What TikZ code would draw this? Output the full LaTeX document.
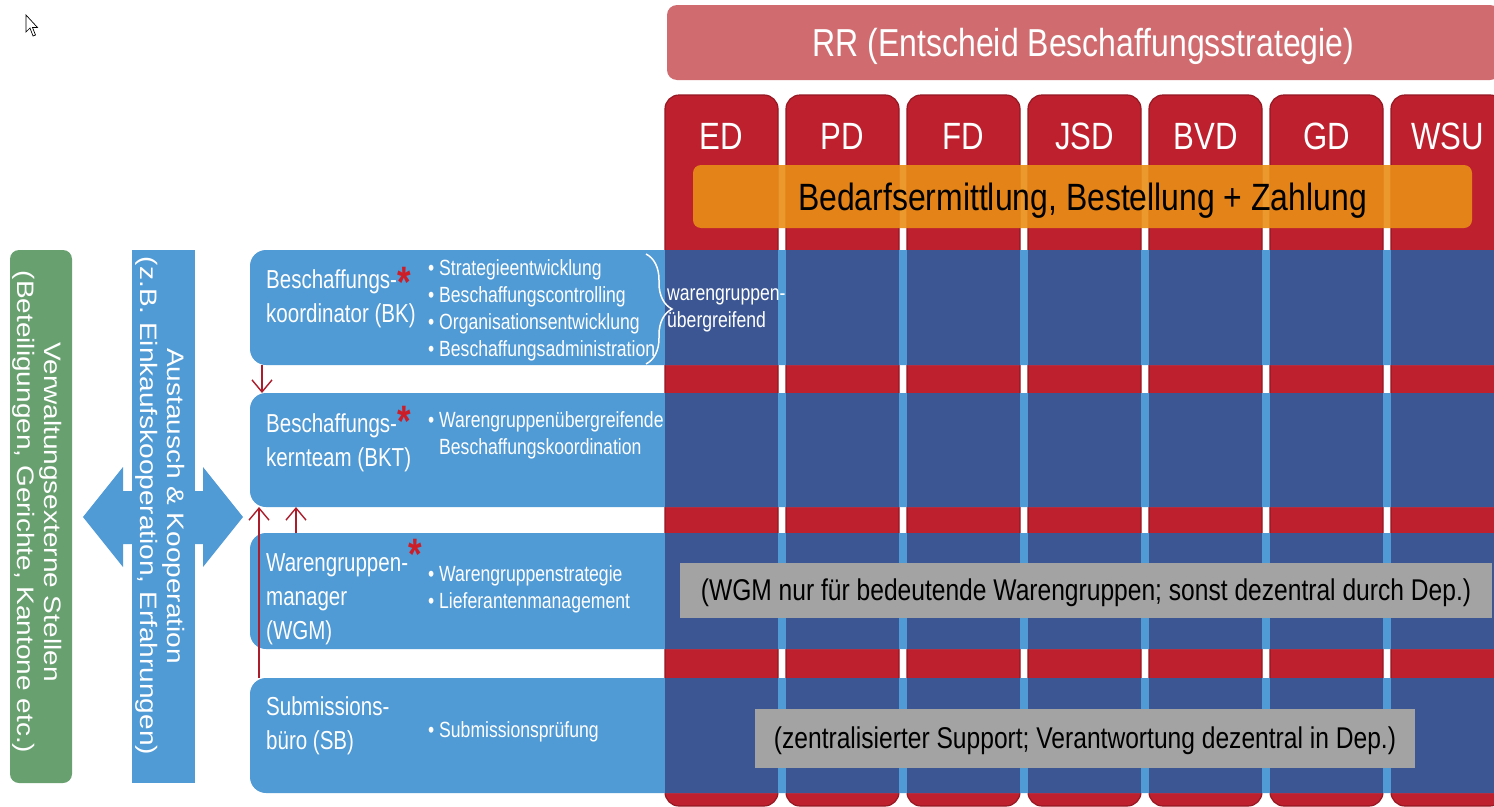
\documentclass[tikz,border=0pt]{standalone}
\usepackage{fontspec}
\setmainfont{Liberation Sans}
\usetikzlibrary{arrows.meta,decorations.pathreplacing}

\definecolor{rowblue}{RGB}{80,154,213}
\definecolor{deptblue}{RGB}{59,86,146}
\definecolor{deptred}{RGB}{190,32,46}
\definecolor{deptedge}{RGB}{150,24,34}
\definecolor{rrred}{RGB}{208,108,112}
\definecolor{bedarforange}{RGB}{233,142,22}
\definecolor{extgreen}{RGB}{104,160,112}
\definecolor{notegrey}{RGB}{163,163,163}
\definecolor{linkred}{RGB}{172,28,42}
\definecolor{starred}{RGB}{205,30,40}

\newcommand{\redstar}[1]{\smash{{\color{starred}\fontsize{44}{44}\selectfont\bfseries\raisebox{#1}{*}}}}

\begin{document}
\begin{tikzpicture}[x=1pt, y=-1pt]
    \tikzstyle{header} = [rectangle, fill=rrred, rounded corners=10pt, inner sep=0pt, outer sep=0pt]
    \tikzstyle{headtext} = [text=white, font=\fontsize{39}{39}\selectfont, xscale=0.82, inner sep=0pt]
    \tikzstyle{dept} = [rectangle, draw=deptedge, line width=1.2pt, fill=deptred, rounded corners=14pt, minimum width=113pt, minimum height=711pt, anchor=north west, inner sep=0pt, outer sep=0pt]
    \tikzstyle{deptlabel} = [text=white, font=\fontsize{38}{38}\selectfont, xscale=0.82, inner sep=0pt]
    \tikzstyle{bar} = [rectangle, fill=bedarforange, fill opacity=0.9, rounded corners=8pt, inner sep=0pt, outer sep=0pt]
    \tikzstyle{bartext} = [text=black, font=\fontsize{38}{38}\selectfont, xscale=0.84, inner sep=0pt]
    \tikzstyle{unit} = [rectangle, fill=rowblue, rounded corners=16pt, minimum width=1280pt, anchor=north west, inner sep=0pt, outer sep=0pt]
    \tikzstyle{role} = [text=white, font=\fontsize{26}{34}\selectfont, align=left, anchor=west, xscale=0.79, inner sep=0pt]
    \tikzstyle{task} = [text=white, font=\fontsize{22}{27}\selectfont, align=left, anchor=west, xscale=0.8, inner sep=0pt]
    \tikzstyle{grouping} = [draw=white, line width=1.5pt, decorate, decoration={brace, amplitude=26pt}]
    \tikzstyle{note} = [rectangle, fill=notegrey, inner sep=0pt, outer sep=0pt]
    \tikzstyle{notetext} = [text=black, font=\fontsize{30}{30}\selectfont, xscale=0.82, inner sep=0pt]
    \tikzstyle{link} = [draw=linkred, line width=1.4pt, -{Straight Barb[length=12pt, width=20pt]}]
    \tikzstyle{coopbar} = [rectangle, fill=rowblue, inner sep=0pt, outer sep=0pt]
    \tikzstyle{extbox} = [rectangle, fill=extgreen, rounded corners=9pt, inner sep=0pt, outer sep=0pt]
    \tikzstyle{sidetext} = [text=white, font=\fontsize{28}{31}\selectfont, align=center, rotate=-90, yscale=0.85, inner sep=0pt]

    \useasboundingbox (0,0) rectangle (1494,806);
    \clip (0,0) rectangle (1494,806);
    \fill[white] (0,0) rectangle (1494,806);

    \draw[black, fill=white, line width=0.7pt] (26,15) -- (26,32) -- (30,28) -- (33,36) -- (35.5,35) -- (32.5,27.5) -- (37.5,27.5) -- cycle;

    \node (rr) [header, minimum width=833pt, minimum height=75pt, anchor=north west] at (667,5) {};
    \node [headtext] at ([yshift=-4pt]rr.center) {RR (Entscheid Beschaffungsstrategie)};

    \foreach \dep [count=\i] in {ED,PD,FD,JSD,BVD,GD,WSU} {
        \node (col\i) [dept] at ({665+121*(\i-1)},95) {};
        \node [deptlabel] at ([yshift=-41pt]col\i.north) {\dep};
    }

    \node (bedarf) [bar, minimum width=779pt, minimum height=63pt] at (1082.5,196.5) {};
    \node [bartext] at ([yshift=-4pt]bedarf.center) {Bedarfsermittlung, Bestellung + Zahlung};

    \node (bk) [unit, minimum height=115pt] at (250,250) {};
    \node (bkt) [unit, minimum height=114pt] at (250,393) {};
    \node (wgm) [unit, minimum height=116pt] at (250,533) {};
    \node (sb) [unit, minimum height=115pt] at (250,678) {};

    \foreach \r in {bk,bkt,wgm,sb}
        \foreach \i in {1,...,7}
            \fill[deptblue] (col\i.west |- \r.north) rectangle (col\i.east |- \r.south);

    \node [role] at (266,299) {Beschaffungs-\redstar{-9pt}\\koordinator (BK)};
    \node [task] at (428,310) {• Strategieentwicklung\\• Beschaffungscontrolling\\• Organisationsentwicklung\\• Beschaffungsadministration};
    \draw [grouping] (646,254) -- (646,364);
    \node [task] at (667,310) {warengruppen-\\übergreifend};

    \node [role] at (266,443) {Beschaffungs-\redstar{-4pt}\\kernteam (BKT)};
    \node [task] at (428,435) {• Warengruppenübergreifende\\\phantom{• }Beschaffungskoordination};

    \node [role] at (266,599) {Warengruppen-\redstar{2pt}\\manager\\(WGM)};
    \node [task] at (428,589) {• Warengruppenstrategie\\• Lieferantenmanagement};

    \node [role] at (266,726) {Submissions-\\büro (SB)};
    \node [task] at (428,732) {• Submissionsprüfung};

    \node (wgmnote) [note, minimum width=812pt, minimum height=55pt] at (1086,590) {};
    \node [notetext] at ([yshift=-3pt]wgmnote.center) {(WGM nur für bedeutende Warengruppen; sonst dezentral durch Dep.)};
    \node (sbnote) [note, minimum width=660pt, minimum height=59pt] at (1085,738) {};
    \node [notetext] at ([yshift=-3pt]sbnote.center) {(zentralisierter Support; Verantwortung dezentral in Dep.)};

    \draw [link] ([xshift=12pt]bk.south west) -- ([xshift=12pt]bkt.north west);
    \draw [link] ([xshift=9pt]sb.north west) -- ([xshift=9pt]bkt.south west);
    \draw [link] ([xshift=46pt]wgm.north west) -- ([xshift=46pt]bkt.south west);

    \fill[rowblue] (83,517) -- (123,467) -- (123,491) -- (203,491) -- (203,467) -- (243,517) -- (203,567) -- (203,544) -- (123,544) -- (123,567) -- cycle;
    \node (coop) [coopbar, minimum width=63pt, minimum height=533pt] at (163.5,516.5) {};
    \node [sidetext] at (160,506) {Austausch \& Kooperation\\(z.B. Einkaufskooperation, Erfahrungen)};
    \node (ext) [extbox, minimum width=62pt, minimum height=533pt] at (41,516.5) {};
    \node [sidetext] at (37,512) {Verwaltungsexterne Stellen\\(Beteiligungen, Gerichte, Kantone etc.)};
\end{tikzpicture}
\end{document}
